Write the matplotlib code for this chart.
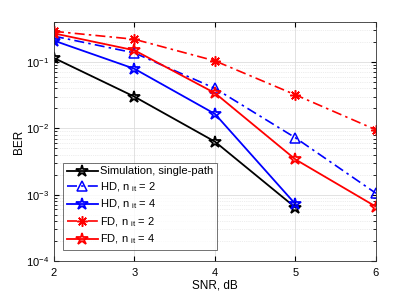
import matplotlib
matplotlib.use('Agg')
import matplotlib.pyplot as plt
import numpy as np

snr = [2, 3, 4, 5, 6]
ber_sim = [0.115, 0.030, 0.0063, 0.00064]
ber_hd2 = [0.245, 0.137, 0.040, 0.0072, 0.00105]
ber_hd4 = [0.21, 0.079, 0.0165, 0.00072]
ber_fd2 = [0.29, 0.22, 0.104, 0.032, 0.0095]
ber_fd4 = [0.27, 0.15, 0.034, 0.0034, 0.00066]

plt.rcParams['font.family'] = ['Liberation Sans', 'DejaVu Sans']
plt.rcParams['mathtext.fontset'] = 'custom'
plt.rcParams['mathtext.rm'] = 'Liberation Sans'
plt.rcParams['mathtext.it'] = 'Liberation Sans'

fig = plt.figure(figsize=(4.15, 2.94), dpi=100)
ax = fig.add_axes([0.130, 0.112, 0.776, 0.813])

dashdot = (0, (6, 2.5, 1.5, 2.5))
ax.plot(snr[:4], ber_sim, 'k-', marker='*', ms=9, mfc='none', mew=1.3, lw=1.3,
        label='Simulation, single-path')
ax.plot(snr, ber_hd2, color='b', ls=dashdot, marker='^', ms=7.5, mfc='none', mew=1.1, lw=1.2,
        label=r'HD, n $_{\rm it}$ = 2')
ax.plot(snr[:4], ber_hd4, 'b-', marker='*', ms=9, mfc='none', mew=1.3, lw=1.3,
        label=r'HD, n $_{\rm it}$ = 4')
ax.plot(snr, ber_fd2, color='r', ls=dashdot, marker=(8, 2, 0), ms=7.5, mew=1.1, lw=1.2,
        label=r'FD, n $_{\rm it}$ = 2')
ax.plot(snr, ber_fd4, 'r-', marker='*', ms=9, mfc='none', mew=1.3, lw=1.3,
        label=r'FD, n $_{\rm it}$ = 4')

ax.set_yscale('log')
ax.set_xlim(2, 6)
ax.set_ylim(1e-4, 0.4)
ax.set_xticks([2, 3, 4, 5, 6])
ax.set_yticks([1e-4, 1e-3, 1e-2, 1e-1])
ax.grid(True, which='major', color='#dddddd', lw=0.6)
ax.grid(True, which='minor', color='#dddddd', lw=0.5, ls=':')
ax.tick_params(labelsize=8, direction='in', which='both', top=True, right=True)
ax.tick_params(axis='x', pad=5)
ax.set_xlabel('SNR, dB', fontsize=8.5, labelpad=1)
ax.set_ylabel('BER', fontsize=8.5, labelpad=1)
for s in ax.spines.values():
    s.set_color('#333333')
    s.set_linewidth(0.6)

leg = ax.legend(loc='lower left', fontsize=8, handlelength=2.8, borderpad=0.35,
                labelspacing=0.35, handletextpad=0.15, fancybox=False,
                borderaxespad=0, bbox_to_anchor=(0.028, 0.045))
leg.get_frame().set_edgecolor('#333333')
leg.get_frame().set_linewidth(0.6)

fig.savefig('out.png', dpi=100)
